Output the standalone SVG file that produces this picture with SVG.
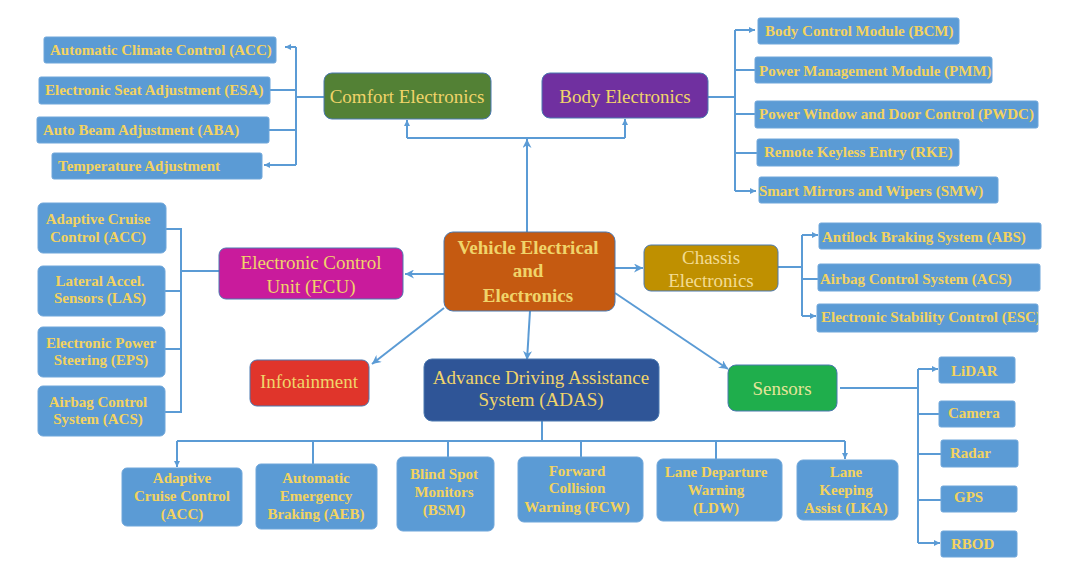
<svg xmlns="http://www.w3.org/2000/svg" width="1092" height="574" viewBox="0 0 1092 574">
<defs>
<style>
.b{fill:#5b9bd5;stroke:#6fa6da;stroke-width:1}
.m{stroke:#4a78b0;stroke-width:1}
.t{font-family:"Liberation Serif","Times New Roman",serif;font-weight:bold;font-size:15px;fill:#f3d35f}
.c{text-anchor:middle}
.h{font-family:"Liberation Serif","Times New Roman",serif;font-size:19px;fill:#f0d46a;text-anchor:middle}
.k{fill:none;stroke:#5b9bd5;stroke-width:2}
</style>
<clipPath id="escclip"><rect x="817" y="304" width="221" height="28"/></clipPath>
<marker id="a" viewBox="0 0 10 10" refX="10" refY="5" markerWidth="10" markerHeight="9" markerUnits="userSpaceOnUse" orient="auto"><path d="M0,0 L10,5 L0,10 L3,5 z" fill="#5b9bd5"/></marker>
<marker id="s" viewBox="0 0 10 10" refX="10" refY="5" markerWidth="6" markerHeight="6" markerUnits="userSpaceOnUse" orient="auto"><path d="M0,0 L10,5 L0,10 z" fill="#5b9bd5"/></marker>
</defs>
<rect width="1092" height="574" fill="#ffffff"/>

<g id="connectors" class="k">
<path d="M527,232 V139" marker-end="url(#a)"/>
<path d="M407,138 H625"/>
<path d="M407,138 V120" marker-end="url(#s)"/>
<path d="M625,138 V119" marker-end="url(#s)"/>
<path d="M324,97 H296"/>
<path d="M296,47 V165"/>
<path d="M296,47 H285" marker-end="url(#s)"/>
<path d="M296,165 H264" marker-end="url(#s)"/>
<path d="M296,90 H270"/>
<path d="M296,130 H269"/>
<path d="M708,97 H735"/>
<path d="M735,30 V191"/>
<path d="M735,30 H755" marker-end="url(#s)"/>
<path d="M735,191 H756" marker-end="url(#s)"/>
<path d="M735,70 H755"/>
<path d="M735,114 H755"/>
<path d="M735,153 H757"/>
<path d="M444,274 H405" marker-end="url(#a)"/>
<path d="M219,271 H182"/>
<path d="M181,229 V412"/>
<path d="M166,229 H182"/>
<path d="M165,291 H182"/>
<path d="M165,349 H182"/>
<path d="M165,412 H182"/>
<path d="M615,268 H643" marker-end="url(#a)"/>
<path d="M778,267 H802"/>
<path d="M802,235 V316"/>
<path d="M802,235 H818" marker-end="url(#s)"/>
<path d="M802,316 H816" marker-end="url(#s)"/>
<path d="M802,279 H818"/>
<path d="M444,308 L372,364" marker-end="url(#a)"/>
<path d="M615,293 L728,369" marker-end="url(#a)"/>
<path d="M530,311 L527,360" marker-end="url(#a)"/>
<path d="M840,388 H918"/>
<path d="M918,369 V543"/>
<path d="M918,369 H938" marker-end="url(#s)"/>
<path d="M918,543 H940" marker-end="url(#s)"/>
<path d="M918,414 H939"/>
<path d="M918,454 H941"/>
<path d="M918,500 H941"/>
<path d="M542,421 V441"/>
<path d="M177,441 H845"/>
<path d="M177,441 V467" marker-end="url(#s)"/>
<path d="M845,441 V459" marker-end="url(#s)"/>
<path d="M313,441 V464"/>
<path d="M448,441 V457"/>
<path d="M581,441 V457"/>
<path d="M716,441 V459"/>
</g>

<g id="vehicle"><rect x="444" y="232" width="171" height="79" rx="9" fill="#c55a11" class="m"/>
<text class="h" font-weight="bold" font-size="18.5"><tspan x="528" y="254">Vehicle Electrical</tspan><tspan x="528" y="277">and</tspan><tspan x="528" y="302">Electronics</tspan></text></g>

<g id="comfort"><rect x="324" y="73" width="167" height="46" rx="8" fill="#538135" class="m"/><text class="h" x="407" y="103">Comfort Electronics</text></g>
<g id="body"><rect x="542" y="73" width="166" height="45" rx="8" fill="#7030a0" class="m"/><text class="h" x="625" y="103">Body Electronics</text></g>
<g id="ecu"><rect x="219" y="248" width="184" height="51" rx="7" fill="#c91b9c" class="m"/><text class="h"><tspan x="311" y="269">Electronic Control</tspan><tspan x="311" y="293">Unit (ECU)</tspan></text></g>
<g id="chassis"><rect x="644" y="245" width="134" height="46" rx="7" fill="#bf9000" class="m"/><text class="h" style="fill:#f3dc93"><tspan x="711" y="264">Chassis</tspan><tspan x="711" y="287">Electronics</tspan></text></g>
<g id="infotainment"><rect x="250" y="360" width="119" height="46" rx="7" fill="#e0352b" class="m"/><text class="h" x="309" y="388">Infotainment</text></g>
<g id="adas"><rect x="424" y="359" width="235" height="62" rx="8" fill="#2f5597" class="m"/><text class="h"><tspan x="541" y="384">Advance Driving Assistance</tspan><tspan x="541" y="406">System (ADAS)</tspan></text></g>
<g id="sensors"><rect x="728" y="365" width="109" height="46" rx="8" fill="#1fae4c" class="m"/><text class="h" x="782" y="395" style="fill:#e6e59a">Sensors</text></g>

<g id="c-acc"><rect class="b" x="44" y="37" width="232" height="26" rx="2"/><text class="t" x="50" y="55">Automatic Climate Control (ACC)</text></g>
<g id="c-esa"><rect class="b" x="39" y="77" width="231" height="27" rx="2"/><text class="t" x="45" y="95">Electronic Seat Adjustment (ESA)</text></g>
<g id="c-aba"><rect class="b" x="37" y="117" width="232" height="26" rx="2"/><text class="t" x="43" y="135">Auto Beam Adjustment (ABA)</text></g>
<g id="c-temp"><rect class="b" x="52" y="153" width="210" height="26" rx="2"/><text class="t" x="58" y="171">Temperature Adjustment</text></g>

<g id="b-bcm"><rect class="b" x="758" y="18" width="201" height="26" rx="2"/><text class="t" x="765" y="36">Body Control Module (BCM)</text></g>
<g id="b-pmm"><rect class="b" x="755" y="57" width="237" height="26" rx="2"/><text class="t" x="759" y="76">Power Management Module (PMM)</text></g>
<g id="b-pwdc"><rect class="b" x="755" y="101" width="283" height="27" rx="2"/><text class="t" x="759" y="119">Power Window and Door Control (PWDC)</text></g>
<g id="b-rke"><rect class="b" x="757" y="139" width="202" height="27" rx="2"/><text class="t" x="764" y="157">Remote Keyless Entry (RKE)</text></g>
<g id="b-smw"><rect class="b" x="759" y="177" width="239" height="26" rx="2"/><text class="t" x="759" y="196">Smart Mirrors and Wipers (SMW)</text></g>

<g id="e-acc"><rect class="b" x="38" y="203" width="128" height="50" rx="5"/><text class="t c"><tspan x="98" y="224">Adaptive Cruise</tspan><tspan x="98" y="242">Control (ACC)</tspan></text></g>
<g id="e-las"><rect class="b" x="38" y="266" width="127" height="50" rx="5"/><text class="t c"><tspan x="100" y="286">Lateral Accel.</tspan><tspan x="100" y="303">Sensors (LAS)</tspan></text></g>
<g id="e-eps"><rect class="b" x="38" y="327" width="127" height="50" rx="5"/><text class="t c"><tspan x="101" y="348">Electronic Power</tspan><tspan x="101" y="365">Steering (EPS)</tspan></text></g>
<g id="e-acs"><rect class="b" x="38" y="386" width="127" height="50" rx="5"/><text class="t c"><tspan x="98" y="407">Airbag Control</tspan><tspan x="98" y="424">System (ACS)</tspan></text></g>

<g id="ch-abs"><rect class="b" x="819" y="223" width="222" height="26" rx="2"/><text class="t" x="822" y="242">Antilock Braking System (ABS)</text></g>
<g id="ch-acs"><rect class="b" x="818" y="264" width="222" height="27" rx="2"/><text class="t" x="820" y="284">Airbag Control System (ACS)</text></g>
<g id="ch-esc"><rect class="b" x="817" y="304" width="221" height="28" rx="2"/><text class="t" x="821" y="322" clip-path="url(#escclip)">Electronic Stability Control (ESC)</text></g>

<g id="s-lidar"><rect class="b" x="939" y="357" width="76" height="26" rx="2"/><text class="t" x="951" y="376">LiDAR</text></g>
<g id="s-camera"><rect class="b" x="939" y="401" width="76" height="26" rx="2"/><text class="t" x="948" y="418">Camera</text></g>
<g id="s-radar"><rect class="b" x="941" y="440" width="77" height="27" rx="2"/><text class="t" x="950" y="458">Radar</text></g>
<g id="s-gps"><rect class="b" x="941" y="486" width="76" height="26" rx="2"/><text class="t" x="954" y="502">GPS</text></g>
<g id="s-rbod"><rect class="b" x="941" y="531" width="76" height="26" rx="2"/><text class="t" x="951" y="549">RBOD</text></g>

<g id="a-acc"><rect class="b" x="122" y="468" width="120" height="58" rx="5"/><text class="t c"><tspan x="182" y="483">Adaptive</tspan><tspan x="182" y="501">Cruise Control</tspan><tspan x="182" y="519">(ACC)</tspan></text></g>
<g id="a-aeb"><rect class="b" x="256" y="464" width="121" height="65" rx="5"/><text class="t c"><tspan x="316" y="483">Automatic</tspan><tspan x="316" y="501">Emergency</tspan><tspan x="316" y="519">Braking (AEB)</tspan></text></g>
<g id="a-bsm"><rect class="b" x="397" y="457" width="97" height="74" rx="6"/><text class="t c"><tspan x="444" y="479">Blind Spot</tspan><tspan x="444" y="497">Monitors</tspan><tspan x="444" y="515">(BSM)</tspan></text></g>
<g id="a-fcw"><rect class="b" x="518" y="457" width="125" height="65" rx="6"/><text class="t c"><tspan x="577" y="476">Forward</tspan><tspan x="577" y="493">Collision</tspan><tspan x="577" y="512">Warning (FCW)</tspan></text></g>
<g id="a-ldw"><rect class="b" x="657" y="459" width="125" height="62" rx="6"/><text class="t c"><tspan x="716" y="477">Lane Departure</tspan><tspan x="716" y="495">Warning</tspan><tspan x="716" y="513">(LDW)</tspan></text></g>
<g id="a-lka"><rect class="b" x="797" y="460" width="101" height="60" rx="6"/><text class="t c"><tspan x="846" y="477">Lane</tspan><tspan x="846" y="495">Keeping</tspan><tspan x="846" y="513">Assist (LKA)</tspan></text></g>
</svg>
